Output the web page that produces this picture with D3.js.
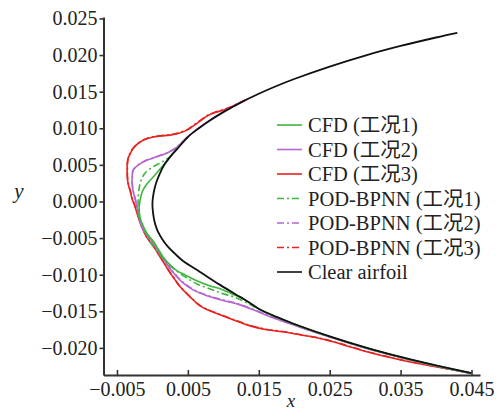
<!DOCTYPE html>
<html>
<head>
<meta charset="utf-8">
<script src="https://cdn.jsdelivr.net/npm/d3@7"></script>
<style>
  html, body { margin: 0; padding: 0; background: #fff; }
  svg { display: block; }
  .tick text, .lbl { font-family: "Liberation Serif", "Noto Sans CJK SC", serif; fill: #222; }
</style>
</head>
<body>
<svg id="chart" width="500" height="413"></svg>
<script>
// Tick labels
const xTicks = [-0.005, 0.005, 0.015, 0.025, 0.035, 0.045];
const yTicks = [-0.020, -0.015, -0.010, -0.005, 0.000, 0.005, 0.010, 0.015, 0.020, 0.025];

// Clean airfoil contour (upper trailing side -> leading edge -> lower side)
const clearAirfoil = [
  [0.043, 0.02304], [0.040, 0.0224], [0.035, 0.02124], [0.030, 0.01993], [0.025, 0.01843],
  [0.020, 0.01673], [0.0175, 0.01577], [0.015, 0.01471], [0.0125, 0.01354], [0.010, 0.01221],
  [0.008, 0.01101], [0.0065, 0.00998], [0.005, 0.00881], [0.00348, 0.00716], [0.00249, 0.00607],
  [0.00165, 0.00498], [0.00101, 0.00375], [0.00052, 0.00252], [0.00017, 0.00116], [0.0, -0.0002],
  [0.00007, -0.00143], [0.00031, -0.0028], [0.00073, -0.00402], [0.00137, -0.00512],
  [0.00221, -0.00621], [0.0032, -0.00716], [0.00432, -0.00812], [0.00672, -0.00962],
  [0.00954, -0.01139], [0.01235, -0.01303], [0.01376, -0.01385], [0.015, -0.01465],
  [0.0175, -0.01577], [0.020, -0.01673], [0.025, -0.01843], [0.030, -0.01993],
  [0.035, -0.02124], [0.040, -0.0224], [0.045, -0.02345]
];

// CFD ice shapes, cases 1-3
const cfd1 = [
  [0.0035, 0.0073], [0.00249, 0.00612], [0.00179, 0.00525], [0.00108, 0.00443], [0.0001, 0.00334],
  [-0.00089, 0.00225], [-0.00145, 0.0013], [-0.00173, 0.0002], [-0.00187, -0.00089],
  [-0.00173, -0.00225], [-0.00117, -0.00362], [-0.00061, -0.00457], [0.0001, -0.00539],
  [0.0008, -0.00648], [0.00151, -0.00757], [0.00249, -0.00866], [0.00348, -0.00948],
  [0.00461, -0.01003], [0.00601, -0.01071], [0.00813, -0.01153], [0.00982, -0.01201],
  [0.01137, -0.01269], [0.01263, -0.01317], [0.015, -0.0147], [0.020, -0.01675],
  [0.025, -0.01845], [0.030, -0.01995], [0.035, -0.02126], [0.040, -0.02242], [0.045, -0.02347]
];
const cfd2 = [
  [0.0125, 0.01358], [0.010, 0.01224], [0.008, 0.01104], [0.0065, 0.01001], [0.0049, 0.00876],
  [0.00348, 0.00744], [0.00207, 0.00662], [0.0001, 0.00593], [-0.00103, 0.00553],
  [-0.00201, 0.00498], [-0.00272, 0.0043], [-0.00286, 0.00334], [-0.00286, 0.00239],
  [-0.00272, 0.00143], [-0.00244, 0.00034], [-0.00216, -0.00089], [-0.00187, -0.00225],
  [-0.00131, -0.00389], [-0.00018, -0.00525], [0.00066, -0.00648], [0.00122, -0.00744],
  [0.002, -0.00853], [0.00263, -0.00935], [0.00334, -0.01016], [0.00432, -0.01112],
  [0.00573, -0.01207], [0.0077, -0.01289], [0.00996, -0.01351], [0.01235, -0.01412],
  [0.01475, -0.01501], [0.017, -0.01589], [0.0194, -0.01671], [0.02151, -0.0174],
  [0.025, -0.01852], [0.030, -0.02002], [0.035, -0.02132], [0.040, -0.02248], [0.045, -0.02352]
];
const cfd3 = [
  [0.01306, 0.01385], [0.01137, 0.01303], [0.01024, 0.01255], [0.00883, 0.01214], [0.0077, 0.01166],
  [0.00672, 0.01098], [0.00573, 0.0103], [0.00489, 0.00975], [0.00362, 0.00928], [0.00249, 0.00907],
  [0.00108, 0.00894], [0.0001, 0.0088], [-0.00089, 0.00853], [-0.00173, 0.00812], [-0.00244, 0.00757],
  [-0.00286, 0.00703], [-0.00314, 0.00648], [-0.00342, 0.00593], [-0.00356, 0.00525],
  [-0.00356, 0.00457], [-0.00356, 0.00348], [-0.00342, 0.00239], [-0.00314, 0.00143],
  [-0.00286, 0.00034], [-0.00244, -0.00075], [-0.00201, -0.00211], [-0.00145, -0.00362],
  [-0.00089, -0.00471], [-0.00032, -0.00553], [0.00038, -0.00648], [0.00108, -0.00757],
  [0.00179, -0.00866], [0.00249, -0.00975], [0.0032, -0.01071], [0.0039, -0.01166],
  [0.00531, -0.01303], [0.00672, -0.01426], [0.00813, -0.01494], [0.00954, -0.01548],
  [0.01137, -0.01617], [0.01376, -0.01699], [0.01616, -0.01753], [0.01841, -0.0178],
  [0.0208, -0.01821], [0.0232, -0.01862], [0.02545, -0.01917], [0.02785, -0.01985],
  [0.03024, -0.02053], [0.03249, -0.02108], [0.03489, -0.02162], [0.03728, -0.0221],
  [0.03954, -0.02251], [0.04193, -0.02292], [0.04503, -0.02347]
];

// POD-BPNN predicted ice shapes, cases 1-3
const pod1 = [
  [0.00277, 0.00634], [0.00179, 0.00566], [0.0008, 0.00512], [-0.00018, 0.00457], [-0.00103, 0.00389],
  [-0.00159, 0.00293], [-0.00187, 0.00184], [-0.00201, 0.00048], [-0.00201, -0.00061],
  [-0.00187, -0.00211], [-0.00131, -0.00362], [-0.00075, -0.00471], [-0.00004, -0.00593],
  [0.00108, -0.0073], [0.00221, -0.00853], [0.0032, -0.00935], [0.00461, -0.0103],
  [0.0063, -0.01126], [0.00813, -0.01194], [0.00982, -0.01255], [0.01165, -0.0131],
  [0.01306, -0.01371], [0.015, -0.01473], [0.020, -0.01676], [0.025, -0.01846],
  [0.030, -0.01996], [0.035, -0.02127], [0.040, -0.02243], [0.045, -0.02347]
];
const pod2 = [
  [0.0065, 0.01001], [0.0049, 0.00878], [0.0035, 0.00748], [0.0021, 0.00668], [0.0002, 0.00598],
  [-0.00101, 0.00557], [-0.00199, 0.00502], [-0.0027, 0.00432], [-0.00283, 0.00336],
  [-0.00284, 0.0024], [-0.0027, 0.00143], [-0.00241, 0.00033], [-0.00213, -0.0009],
  [-0.00184, -0.00226], [-0.00128, -0.0039], [-0.00015, -0.00527], [0.0007, -0.0065],
  [0.00126, -0.00745], [0.00205, -0.00852], [0.00268, -0.00932], [0.00338, -0.01012],
  [0.00436, -0.01106], [0.00577, -0.012], [0.00774, -0.01282], [0.01, -0.01345],
  [0.0124, -0.01407], [0.0148, -0.01497], [0.01705, -0.01586], [0.01945, -0.01668],
  [0.02155, -0.01738], [0.025, -0.0185], [0.030, -0.02], [0.035, -0.0213],
  [0.040, -0.02246], [0.045, -0.0235]
];
const pod3 = [
  [0.0131, 0.01388], [0.0114, 0.01308], [0.0102, 0.01262], [0.0088, 0.01218], [0.0077, 0.01172],
  [0.0067, 0.01104], [0.0057, 0.01036], [0.0049, 0.00982], [0.0036, 0.00934], [0.0025, 0.00912],
  [0.0011, 0.00898], [0.0001, 0.00885], [-0.0009, 0.00858], [-0.0017, 0.00818], [-0.0024, 0.00762],
  [-0.0029, 0.00708], [-0.0032, 0.00652], [-0.0034, 0.00596], [-0.0035, 0.00528],
  [-0.00352, 0.0046], [-0.00352, 0.0035], [-0.00338, 0.0024], [-0.0031, 0.00144],
  [-0.00282, 0.00034], [-0.0024, -0.00076], [-0.00198, -0.00212], [-0.00142, -0.00362],
  [-0.00086, -0.0047], [-0.0003, -0.00551], [0.0004, -0.00645], [0.0011, -0.00753],
  [0.0018, -0.00862], [0.0025, -0.0097], [0.0032, -0.01066], [0.0039, -0.0116],
  [0.0053, -0.01297], [0.0067, -0.0142], [0.0081, -0.01489], [0.0095, -0.01543],
  [0.0114, -0.01611], [0.0138, -0.01693], [0.0162, -0.01748], [0.0184, -0.01776],
  [0.0208, -0.01817], [0.0232, -0.01858], [0.0255, -0.01913], [0.0279, -0.01981],
  [0.0302, -0.02049], [0.0325, -0.02104], [0.0349, -0.02158], [0.0373, -0.02206],
  [0.0395, -0.02248], [0.0419, -0.0229], [0.0450, -0.02346]
];

const legendLabels = ["CFD (工况1)", "CFD (工况2)", "CFD (工况3)",
  "POD-BPNN (工况1)", "POD-BPNN (工况2)", "POD-BPNN (工况3)", "Clear airfoil"];

const GREEN = "#3fb53f", PURPLE = "#b566cf", RED = "#e8231f", BLACK = "#111";
const DASHDOT = "7,3,2,3";

const series = [
  { data: cfd1, color: GREEN, dash: null, label: legendLabels[0] },
  { data: cfd2, color: PURPLE, dash: null, label: legendLabels[1] },
  { data: cfd3, color: RED, dash: null, label: legendLabels[2] },
  { data: pod1, color: GREEN, dash: DASHDOT, label: legendLabels[3] },
  { data: pod2, color: PURPLE, dash: DASHDOT, label: legendLabels[4] },
  { data: pod3, color: RED, dash: DASHDOT, label: legendLabels[5] },
  { data: clearAirfoil, color: BLACK, dash: null, label: legendLabels[6] }
];

const svg = d3.select("#chart");
const x = d3.scaleLinear().domain([-0.0069, 0.0462]).range([103.5, 480]);
const y = d3.scaleLinear().domain([-0.0237, 0.0252]).range([375, 17]);
const fmt = d3.format(".3f");

// Axes: left ticks point outward, bottom ticks point inward
const yAxis = svg.append("g").attr("transform", `translate(${x.range()[0]},0)`)
  .call(d3.axisLeft(y).tickValues(yTicks).tickFormat(fmt).tickSizeInner(4).tickSizeOuter(0).tickPadding(2));
const xAxis = svg.append("g").attr("transform", `translate(0,${y.range()[0]})`)
  .call(d3.axisBottom(x).tickValues(xTicks).tickFormat(fmt).tickSizeInner(-5).tickSizeOuter(0).tickPadding(7));
[xAxis, yAxis].forEach(g => {
  g.select(".domain").attr("stroke", "#333").attr("stroke-width", 2);
  g.selectAll(".tick line").attr("stroke", "#333").attr("stroke-width", 1.6);
  g.selectAll(".tick text").attr("font-size", 20).attr("fill", "#222");
});

// Axis titles
svg.append("text").attr("class", "lbl").attr("x", 19).attr("y", 198)
  .attr("text-anchor", "middle").attr("font-style", "italic").attr("font-size", 21).text("y");
svg.append("text").attr("class", "lbl").attr("x", 291).attr("y", 407)
  .attr("text-anchor", "middle").attr("font-style", "italic").attr("font-size", 19).text("x");

// Curves
const line = d3.line().x(d => x(d[0])).y(d => y(d[1])).curve(d3.curveCatmullRom.alpha(0.5));
const drawOrder = [2, 5, 1, 4, 0, 3, 6];
drawOrder.forEach(i => {
  const s = series[i];
  svg.append("path").datum(s.data).attr("d", line)
    .attr("fill", "none").attr("stroke", s.color)
    .attr("stroke-width", s.color === BLACK ? 1.8 : 1.6)
    .attr("stroke-dasharray", s.dash)
    .attr("stroke-linejoin", "round");
});

// Legend
const lg = svg.append("g");
series.forEach((s, i) => {
  const yy = 125 + i * 24.5;
  lg.append("line").attr("x1", 277).attr("x2", 302).attr("y1", yy).attr("y2", yy)
    .attr("stroke", s.color).attr("stroke-width", 1.6).attr("stroke-dasharray", s.dash);
  lg.append("text").attr("class", "lbl").attr("x", 308).attr("y", yy + 7)
    .attr("font-size", 20.5).text(s.label);
});
</script>
</body>
</html>
